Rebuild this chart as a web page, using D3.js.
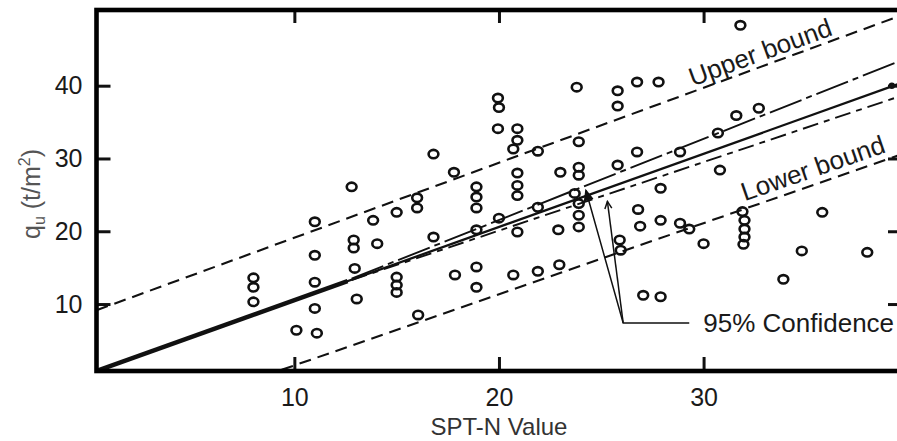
<!DOCTYPE html>
<html><head><meta charset="utf-8">
<script src="https://cdn.jsdelivr.net/npm/d3@7"></script>
<style>body{margin:0;background:#fff}svg{display:block}</style>
</head><body>
<svg id="chart" width="897" height="441"></svg>
<script>
// ---- data ----
const xTicks = [10, 20, 30];
const yTicks = [10, 20, 30, 40];
const xLabel = "SPT-N Value";

const pointN = [8, 8, 8, 10.1, 11, 11, 11, 11, 11.1, 12.8, 12.9, 12.9, 12.95, 13.05, 13.85, 14.05,
  15, 15, 15, 15, 16, 16, 16.05, 16.8, 16.8, 17.8, 17.85,
  18.9, 18.9, 18.9, 18.9, 18.9, 18.9, 19.95, 20, 19.95, 20, 20.9, 20.9, 20.7, 20.9, 20.9, 20.9, 20.9, 20.7,
  21.9, 21.9, 21.9, 22.9, 22.95, 23.0, 23.8, 23.9, 23.9, 23.9, 23.7, 23.9, 23.9, 23.9,
  25.8, 25.8, 25.8, 25.9, 25.95, 26.75, 26.75, 26.8, 26.9, 27.8, 27.9, 27.9, 27.05, 27.9,
  28.85, 28.85, 29.3, 30.0, 30.7, 30.8, 31.6, 31.8, 32.7,
  31.9, 32.0, 32.0, 32.0, 31.95, 33.9, 34.8, 35.8, 38.0, 39.2];
const pointQ = [13.6, 12.3, 10.3, 6.4, 21.3, 16.7, 13.0, 9.4, 6.0, 26.1, 18.8, 17.7, 14.9, 10.7, 21.5, 18.3,
  22.6, 13.7, 12.6, 11.6, 24.6, 23.2, 8.5, 30.6, 19.2, 28.1, 14.0,
  26.1, 24.7, 23.2, 20.2, 15.1, 12.3, 38.3, 37.0, 34.1, 21.8, 34.1, 32.5, 31.3, 28.0, 26.3, 24.9, 19.9, 14.0,
  31.0, 23.3, 14.5, 20.2, 15.4, 28.1, 39.8, 32.3, 28.8, 27.7, 25.2, 23.8, 22.2, 20.6,
  39.3, 37.2, 29.1, 18.8, 17.4, 40.5, 30.9, 23.0, 20.7, 40.5, 25.9, 21.5, 11.2, 11.0,
  30.9, 21.1, 20.3, 18.3, 33.5, 28.4, 35.9, 48.3, 36.9,
  22.7, 21.5, 20.3, 19.2, 18.2, 13.4, 17.3, 22.6, 17.1, 40.0];
// index of the filled (solid) point
const filledPoint = [pointN.length - 1];

// lines (endpoints in data units)
const regressionN = [0.33, 39.6];
const regressionQ = [0.8, 40.3];
const overlapN = [0.33, 12.6];          // part where the three lines coincide
const upperCIN = [12.8, 39.6];
const upperCIQ = [13.5, 43.4];
const lowerCIN = [12.8, 39.6];
const lowerCIQ = [13.3, 38.55];
const upperBoundN = [0.33, 39.6];
const upperBoundQ = [9.15, 49.6];
const lowerBoundN = [8.5, 39.6];
const lowerBoundQ = [0.1, 30.5];

// ---- drawing ----
const svg = d3.select("#chart");
const x = d3.scaleLinear().domain([0.33, 39.6]).range([96.5, 900]);
const y = d3.scaleLinear().domain([0.8, 50.4]).range([371, 10]);
const X0 = x.range()[0], X1 = x.range()[1], Y0 = y.range()[0], Y1 = y.range()[1];

const plot = svg.append("g");
plot.append("clipPath").attr("id", "clip").append("rect")
  .attr("x", X0).attr("y", Y1).attr("width", X1 - X0).attr("height", Y0 - Y1);
const inner = plot.append("g").attr("clip-path", "url(#clip)");

const line = d3.line().x(d => x(d[0])).y(d => y(d[1]));
const pts = (ns, qs) => ns.map((n, i) => [n, qs[i]]);
const regAt = n => regressionQ[0] + (regressionQ[1] - regressionQ[0]) * (n - regressionN[0]) / (regressionN[1] - regressionN[0]);

// bounds
inner.append("path").datum(pts(upperBoundN, upperBoundQ)).attr("d", line)
  .attr("fill", "none").attr("stroke", "#111").attr("stroke-width", 2.1).attr("stroke-dasharray", "12,7");
inner.append("path").datum(pts(lowerBoundN, lowerBoundQ)).attr("d", line)
  .attr("fill", "none").attr("stroke", "#111").attr("stroke-width", 2.1).attr("stroke-dasharray", "12,7");

// confidence lines
inner.append("path").datum(pts(upperCIN, upperCIQ)).attr("d", line)
  .attr("fill", "none").attr("stroke", "#111").attr("stroke-width", 1.9).attr("stroke-dasharray", "34,5,6,5");
inner.append("path").datum(pts(lowerCIN, lowerCIQ)).attr("d", line)
  .attr("fill", "none").attr("stroke", "#111").attr("stroke-width", 1.9).attr("stroke-dasharray", "16,6,6,6");
// regression
inner.append("path").datum(pts(regressionN, regressionQ)).attr("d", line)
  .attr("fill", "none").attr("stroke", "#111").attr("stroke-width", 2.3);
inner.append("path").datum(overlapN.map(n => [n, regAt(n)])).attr("d", line)
  .attr("fill", "none").attr("stroke", "#111").attr("stroke-width", 4.4);

// points
inner.selectAll("ellipse.pt").data(pointN.map((n, i) => ({n, q: pointQ[i], filled: filledPoint.includes(i)})))
  .join("ellipse").attr("class", "pt")
  .attr("cx", d => x(d.n)).attr("cy", d => y(d.q))
  .attr("rx", d => d.filled ? 3.2 : 4.9).attr("ry", d => d.filled ? 3.2 : 4.2)
  .attr("fill", d => d.filled ? "#111" : "none")
  .attr("stroke", "#111").attr("stroke-width", d => d.filled ? 0 : 2.6);

// labels along bounds
function slantLabel(text, ns, qs, atN, offset) {
  const ang = Math.atan2(y(qs[1]) - y(qs[0]), x(ns[1]) - x(ns[0])) * 180 / Math.PI;
  const q = qs[0] + (qs[1] - qs[0]) * (atN - ns[0]) / (ns[1] - ns[0]);
  inner.append("text")
    .attr("transform", `translate(${x(atN)},${y(q)}) rotate(${ang}) translate(0,${-offset})`)
    .attr("text-anchor", "middle")
    .attr("font-family", "Liberation Sans, Arial, sans-serif").attr("font-size", 26)
    .attr("fill", "#1a1a1a").text(text);
}
slantLabel("Upper bound", upperBoundN, upperBoundQ, 33.0, 5);
slantLabel("Lower bound", lowerBoundN, lowerBoundQ, 35.6, 7);

// 95% confidence annotation
const annJunction = [26.07, 7.4];
const annEnd = [29.3, 7.4];
const annTarget1 = [24.25, 25.6];
const annTarget2 = [25.3, 24.1];
const ann = inner.append("g").attr("stroke", "#111").attr("stroke-width", 1.5).attr("fill", "none");
ann.append("path").datum([annTarget1, annJunction, annEnd]).attr("d", line);
ann.append("path").datum([annTarget2, annJunction]).attr("d", line);
(function () {
  const tx = x(annTarget2[0]), ty = y(annTarget2[1]);
  const jx = x(annJunction[0]), jy = y(annJunction[1]);
  const a = Math.atan2(ty - jy, tx - jx);
  const L = 8, w = 0.45;
  ann.append("path").attr("d",
    `M${tx - L * Math.cos(a - w)},${ty - L * Math.sin(a - w)} L${tx},${ty} L${tx - L * Math.cos(a + w)},${ty - L * Math.sin(a + w)}`);
  const sx = x(annTarget1[0]), sy = y(annTarget1[1]);
  const b = Math.atan2(sy - jy, sx - jx);
  ann.append("path").attr("fill", "#111").attr("d",
    `M${sx},${sy} L${sx - 10 * Math.cos(b - 0.4)},${sy - 10 * Math.sin(b - 0.4)} L${sx - 10 * Math.cos(b + 0.4)},${sy - 10 * Math.sin(b + 0.4)} Z`);
})();
inner.append("text").attr("x", x(annEnd[0]) + 14).attr("y", y(annEnd[1]) + 9)
  .attr("font-family", "Liberation Sans, Arial, sans-serif").attr("font-size", 26)
  .attr("fill", "#1a1a1a").text("95% Confidence");

// axes with inward ticks
const axG = svg.append("g");
const tickStyle = g => { g.select(".domain").remove(); g.selectAll(".tick line").attr("stroke", "#111").attr("stroke-width", 3); };
axG.append("g").attr("transform", `translate(0,${Y0})`)
  .call(d3.axisBottom(x).tickValues(xTicks).tickSize(-14).tickPadding(17).tickFormat(d3.format("d")))
  .call(tickStyle)
  .call(g => g.selectAll("text").attr("font-family", "Liberation Sans, Arial, sans-serif").attr("font-size", 25).attr("fill", "#1a1a1a"));
axG.append("g").attr("transform", `translate(0,${Y1})`)
  .call(d3.axisTop(x).tickValues(xTicks).tickSize(-13).tickFormat(""))
  .call(tickStyle);
axG.append("g").attr("transform", `translate(${X0},0)`)
  .call(d3.axisLeft(y).tickValues(yTicks).tickSize(-14).tickPadding(14).tickFormat(d3.format("d")))
  .call(tickStyle)
  .call(g => g.selectAll("text").attr("font-family", "Liberation Sans, Arial, sans-serif").attr("font-size", 25).attr("fill", "#1a1a1a"));
axG.append("g").attr("transform", `translate(${X1},0)`)
  .call(d3.axisRight(y).tickValues(yTicks).tickSize(-12).tickFormat(""))
  .call(tickStyle);

// frame
svg.append("rect").attr("x", X0).attr("y", Y1).attr("width", X1 - X0).attr("height", Y0 - Y1)
  .attr("fill", "none").attr("stroke", "#000").attr("stroke-width", 4.6);

// axis titles
svg.append("text").attr("x", (x(xTicks[0]) + x(xTicks[2])) / 2).attr("y", 435)
  .attr("text-anchor", "middle").attr("font-family", "Liberation Sans, Arial, sans-serif").attr("font-size", 24)
  .attr("fill", "#333").text(xLabel);

const yt = svg.append("text").attr("transform", "translate(40,194) rotate(-90)")
  .attr("text-anchor", "middle").attr("font-family", "Liberation Sans, Arial, sans-serif")
  .attr("font-size", 25).attr("fill", "#555");
yt.append("tspan").text("q");
yt.append("tspan").attr("font-size", 16).attr("dy", 5).text("u");
yt.append("tspan").attr("dy", -5).text(" (t/m");
yt.append("tspan").attr("font-size", 16).attr("dy", -10).text("2");
yt.append("tspan").attr("dy", 10).text(")");
</script>
</body></html>
